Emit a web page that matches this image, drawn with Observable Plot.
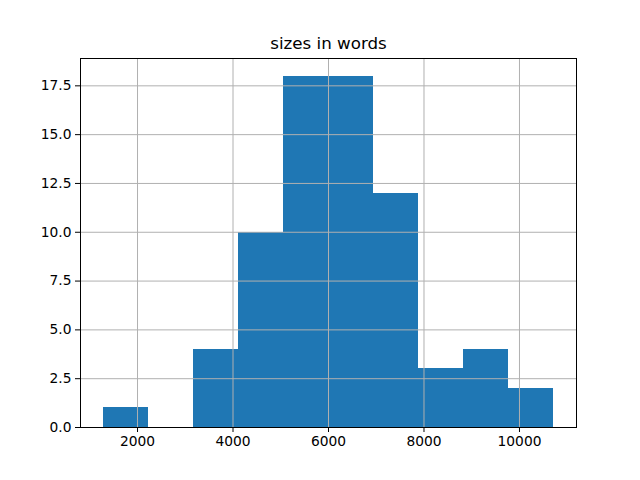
<!DOCTYPE html>
<html>
<head>
<meta charset="utf-8">
<script src="https://cdn.jsdelivr.net/npm/d3@7"></script>
<script src="https://cdn.jsdelivr.net/npm/@observablehq/plot@0.6"></script>
<style>
  body { margin: 0; background: #fff; }
  svg { font-family: "DejaVu Sans", sans-serif; }
</style>
</head>
<body>
<div id="chart"></div>
<script>
const title = "sizes in words";
const binEdges = [1278, 2222, 3167, 4111, 5055, 6000, 6944, 7889, 8833, 9778, 10722];
const counts = [1, 0, 4, 10, 18, 18, 12, 3, 4, 2];
const xTicks = [2000, 4000, 6000, 8000, 10000];
const yTicks = [0, 2.5, 5, 7.5, 10, 12.5, 15, 17.5];

const bins = counts.map((c, i) => ({x1: binEdges[i], x2: binEdges[i + 1], count: c}));
const lo = binEdges[0], hi = binEdges[binEdges.length - 1];
const pad = (hi - lo) * 0.05;

const chart = Plot.plot({
  width: 640,
  height: 480,
  marginLeft: 80,
  marginRight: 64,
  marginTop: 58,
  marginBottom: 53,
  style: {fontFamily: "DejaVu Sans, sans-serif", fontSize: "13.8px", color: "#000", background: "#fff"},
  x: {domain: [lo - pad, hi + pad], ticks: xTicks, tickFormat: d => String(d), label: null, tickSize: 5, tickPadding: 4},
  y: {domain: [0, 18 * 1.05], ticks: yTicks, tickFormat: d3.format(".1f"), label: null, tickSize: 5, tickPadding: 4},
  marks: [
    Plot.rectY(bins, {x1: "x1", x2: "x2", y: "count", fill: "#1f77b4", inset: 0, shapeRendering: "crispEdges"}),
    Plot.gridX(xTicks, {stroke: "#b0b0b0", strokeOpacity: 1, strokeWidth: 1}),
    Plot.gridY(yTicks, {stroke: "#b0b0b0", strokeOpacity: 1, strokeWidth: 1}),
    Plot.frame({stroke: "#000", strokeWidth: 1}),
    Plot.axisX({ticks: xTicks, tickFormat: d => String(d), tickSize: 5, tickPadding: 4, label: null, fontSize: 13.8}),
    Plot.axisY({ticks: yTicks, tickFormat: d3.format(".1f"), tickSize: 5, tickPadding: 4, label: null, fontSize: 13.8}),
    Plot.text([title], {frameAnchor: "top", dy: -10, text: d => d, fontSize: 16.7, fill: "#000", lineAnchor: "bottom"})
  ]
});
document.getElementById("chart").appendChild(chart);
</script>
</body>
</html>
